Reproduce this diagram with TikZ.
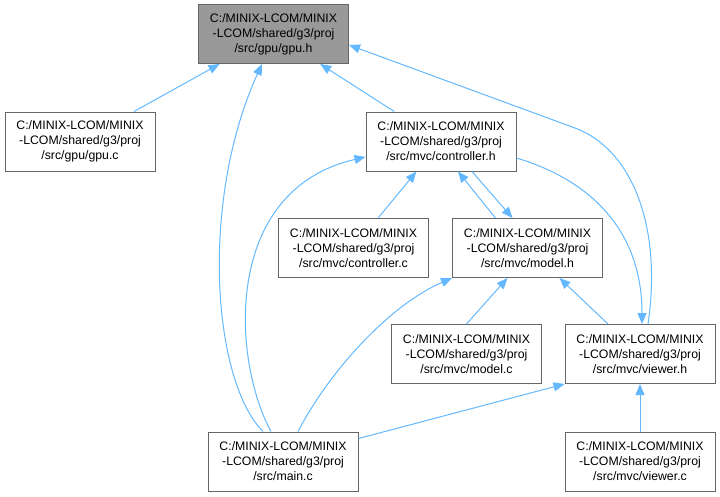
\documentclass[tikz,border=0pt]{standalone}
\usepackage{fontspec}
\setmainfont{Liberation Sans}
\usetikzlibrary{arrows.meta}
\definecolor{edgeblue}{HTML}{63B8FF}
\definecolor{boxgray}{HTML}{666666}
\definecolor{curfill}{HTML}{999999}
\begin{document}
\begin{tikzpicture}[x=1pt, y=-1pt, >={Triangle[length=11pt,width=9pt]},
  filebox/.style={draw=boxgray, line width=1pt, fill=white, minimum width=150pt, minimum height=59pt, inner sep=0pt, align=center, font=\fontsize{12.3}{15}\selectfont},
  edge/.style={->, draw=edgeblue, line width=1pt}]
\useasboundingbox (0,0) rectangle (720,496);
\node[filebox, fill=curfill] (gpuh) at (273.5,34) {C:/MINIX-LCOM/MINIX\\-LCOM/shared/g3/proj\\/src/gpu/gpu.h};
\node[filebox] (gpuc) at (80,141.5) {C:/MINIX-LCOM/MINIX\\-LCOM/shared/g3/proj\\/src/gpu/gpu.c};
\node[filebox] (ctrlh) at (441,141.5) {C:/MINIX-LCOM/MINIX\\-LCOM/shared/g3/proj\\/src/mvc/controller.h};
\node[filebox] (ctrlc) at (353.5,248) {C:/MINIX-LCOM/MINIX\\-LCOM/shared/g3/proj\\/src/mvc/controller.c};
\node[filebox] (modelh) at (527.5,248) {C:/MINIX-LCOM/MINIX\\-LCOM/shared/g3/proj\\/src/mvc/model.h};
\node[filebox] (modelc) at (466.5,354) {C:/MINIX-LCOM/MINIX\\-LCOM/shared/g3/proj\\/src/mvc/model.c};
\node[filebox] (viewerh) at (640,354) {C:/MINIX-LCOM/MINIX\\-LCOM/shared/g3/proj\\/src/mvc/viewer.h};
\node[filebox] (mainc) at (283,461.5) {C:/MINIX-LCOM/MINIX\\-LCOM/shared/g3/proj\\/src/main.c};
\node[filebox] (viewerc) at (640,461.5) {C:/MINIX-LCOM/MINIX\\-LCOM/shared/g3/proj\\/src/mvc/viewer.c};
\draw[edge] (gpuc) -- (gpuh);
\draw[edge] (ctrlh) -- (gpuh);
\draw[edge] ([xshift=-20pt]mainc.north) .. controls (212,380) and (200,200) .. ([xshift=-11.5pt]gpuh.south);
\draw[edge] ([xshift=8pt]viewerh.north) .. controls (662,230) and (634,150) .. (575,128) -- ([yshift=-11pt]gpuh.east);
\draw[edge] (ctrlc) -- (ctrlh);
\draw[edge] ([xshift=-32pt]modelh.north) -- ([xshift=17pt]ctrlh.south);
\draw[edge] ([xshift=31pt]ctrlh.south) -- ([xshift=-15pt]modelh.north);
\draw[edge] ([xshift=-12pt]mainc.north) .. controls (232,360) and (222,190) .. ([yshift=-15.5pt]ctrlh.west);
\draw[edge] ([yshift=-16.5pt]ctrlh.east) .. controls (590,180) and (642,230) .. ([xshift=2pt]viewerh.north);
\draw[edge] (modelc.north) -- ([xshift=-20pt]modelh.south);
\draw[edge] ([xshift=-32pt]viewerh.north) -- ([xshift=32pt]modelh.south);
\draw[edge] ([xshift=15pt]mainc.north) .. controls (330,370) and (390,305) .. (modelh.south west);
\draw[edge] ([yshift=-7pt]mainc.north east) -- (viewerh.south west);
\draw[edge] (viewerc) -- (viewerh);
\end{tikzpicture}
\end{document}
